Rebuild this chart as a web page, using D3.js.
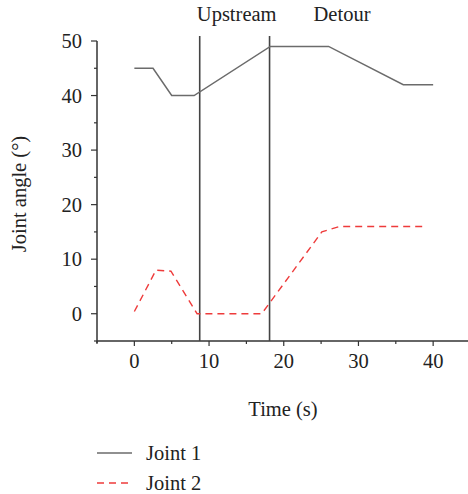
<!DOCTYPE html>
<html><head><meta charset="utf-8">
<script src="https://cdn.jsdelivr.net/npm/d3@7"></script>
<style>body{margin:0;background:#fff}svg{display:block}text{font-family:"Liberation Serif","Times New Roman",serif;fill:#222}</style>
</head><body>
<script>
const joint1Time = [0, 2.5, 5, 8, 18.2, 26, 36, 40];
const joint1Angle = [45, 45, 40, 40, 49, 49, 42, 42];
const joint2Time = [0, 2.9, 4.9, 8.4, 17.05, 25.1, 27.5, 39];
const joint2Angle = [0.4, 8, 7.8, 0, 0, 15, 16, 16];
const phaseTimes = [8.75, 18.1];
const phaseLabels = ["Upstream", "Detour"];
const phaseLabelTimes = [13.7, 27.8];
const xTicks = [0, 10, 20, 30, 40];
const yTicks = [0, 10, 20, 30, 40, 50];
const seriesNames = ["Joint 1", "Joint 2"];

const W = 468, H = 494;
const svg = d3.select("body").append("svg").attr("width", W).attr("height", H);
const x = d3.scaleLinear().domain([-5, 45]).range([97, 470.5]);
const y = d3.scaleLinear().domain([-5, 50]).range([341, 41]);
const FS = 20.5;

// x axis
const xa = svg.append("g").attr("transform", `translate(0,${y(-5)})`);
xa.append("line").attr("x1", x(-5)).attr("x2", x(45)).attr("stroke", "#333").attr("stroke-width", 1.5);
d3.range(-5, 46, 5).forEach(t => {
  xa.append("line").attr("x1", x(t)).attr("x2", x(t)).attr("y1", 0).attr("y2", t % 10 === 0 ? 5 : 3).attr("stroke", "#333").attr("stroke-width", 1.2);
});
xTicks.forEach(t => {
  xa.append("text").attr("x", x(t)).attr("y", 27).attr("text-anchor", "middle").attr("font-size", FS).text(t);
});

// y axis
const ya = svg.append("g").attr("transform", `translate(${x(-5)},0)`);
ya.append("line").attr("y1", y(50)).attr("y2", y(-5) + 2).attr("stroke", "#333").attr("stroke-width", 1.5);
d3.range(-5, 51, 5).forEach(t => {
  ya.append("line").attr("y1", y(t)).attr("y2", y(t)).attr("x1", 0).attr("x2", t % 10 === 0 ? -6 : -3).attr("stroke", "#333").attr("stroke-width", 1.2);
});
yTicks.forEach(t => {
  ya.append("text").attr("x", -15).attr("y", y(t)).attr("dy", "0.34em").attr("text-anchor", "end").attr("font-size", FS).text(t);
});

// axis titles
svg.append("text").attr("x", 283).attr("y", 416).attr("text-anchor", "middle").attr("font-size", FS).text("Time (s)");
svg.append("text").attr("transform", `translate(26,194) rotate(-90)`).attr("text-anchor", "middle").attr("font-size", FS).text("Joint angle (°)");

// phase lines
phaseTimes.forEach(t => {
  svg.append("line").attr("x1", x(t)).attr("x2", x(t)).attr("y1", 36).attr("y2", y(-5)).attr("stroke", "#444").attr("stroke-width", 1.6);
});
phaseLabels.forEach((l, i) => {
  svg.append("text").attr("x", x(phaseLabelTimes[i])).attr("y", 21).attr("text-anchor", "middle").attr("font-size", FS).text(l);
});

const line = d3.line().x(d => x(d[0])).y(d => y(d[1]));
const j1 = joint1Time.map((t, i) => [t, joint1Angle[i]]);
const j2 = joint2Time.map((t, i) => [t, joint2Angle[i]]);
svg.append("path").attr("d", line(j1)).attr("fill", "none").attr("stroke", "#6b6b6b").attr("stroke-width", 1.5);
svg.append("path").attr("d", line(j2)).attr("fill", "none").attr("stroke", "#ee3b3b").attr("stroke-width", 1.4).attr("stroke-dasharray", "7,5");

// legend
const styles = [{c: "#6b6b6b", d: null}, {c: "#ee3b3b", d: "7,5"}];
seriesNames.forEach((n, i) => {
  const yy = 453 + i * 30;
  const l = svg.append("line").attr("x1", 97).attr("x2", 132).attr("y1", yy).attr("y2", yy).attr("stroke", styles[i].c).attr("stroke-width", 1.5);
  if (styles[i].d) l.attr("stroke-dasharray", styles[i].d);
  svg.append("text").attr("x", 146).attr("y", yy).attr("dy", "0.34em").attr("font-size", FS).text(n);
});
</script>
</body></html>
